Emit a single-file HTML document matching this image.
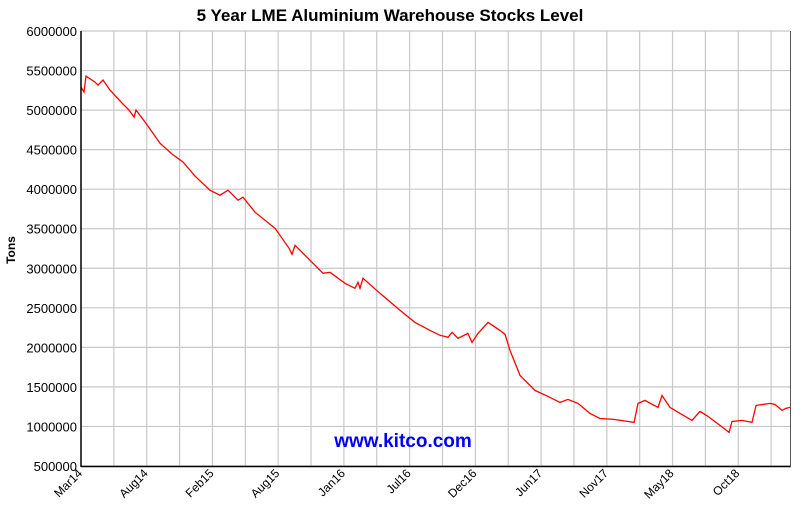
<!DOCTYPE html>
<html><head><meta charset="utf-8"><style>
html,body{margin:0;padding:0;background:#fff;}
svg{display:block;font-family:"Liberation Sans",Arial,sans-serif;}
</style></head><body>
<svg id="chart" width="806" height="512" viewBox="0 0 806 512" xmlns="http://www.w3.org/2000/svg">
<text x="390" y="21" text-anchor="middle" font-size="17" font-weight="bold">5 Year LME Aluminium Warehouse Stocks Level</text>
<text transform="translate(15,250) rotate(-90)" text-anchor="middle" font-size="12" font-weight="bold">Tons</text>
<g id="grid"></g>
<g id="ticks"></g>
<text x="403" y="447" text-anchor="middle" font-size="19" font-weight="bold" fill="#0000ff">www.kitco.com</text>
<path id="line" fill="none" stroke="#ff0000" stroke-width="1.3"/>
<line x1="81" y1="31" x2="81" y2="467" stroke="#000" stroke-width="1.5"/>
<line x1="81" y1="466.5" x2="791" y2="466.5" stroke="#000" stroke-width="1.5"/>
<line x1="790.5" y1="31" x2="790.5" y2="467" stroke="#555" stroke-width="1"/>
</svg>
<script>
const yTicks=[500000,1000000,1500000,2000000,2500000,3000000,3500000,4000000,4500000,5000000,5500000,6000000];
const xLabels=["Mar14","Aug14","Feb15","Aug15","Jan16","Jul16","Dec16","Jun17","Nov17","May18","Oct18"];
const xLabelMonths=[0,5.5,11,16.5,22,27.5,33,38.5,44,49.5,55];
const months=[0,0.25,0.42,1.17,1.42,1.84,2.43,3.43,4.02,4.44,4.6,5.36,6.61,7.62,8.54,9.54,10.79,11.63,12.3,13.14,13.56,14.56,16.23,17.41,17.66,17.91,19.16,20.25,20.84,22.09,22.93,23.18,23.35,23.6,25.02,26.69,27.95,29.21,30.04,30.71,31.05,31.55,32.38,32.72,33.22,34.06,35.06,35.48,35.9,36.74,37.99,39.08,40.08,40.75,41.59,42.59,43.43,44.6,46.28,46.61,47.2,48.28,48.62,49.29,50.13,51.13,51.8,52.47,53.47,54.23,54.48,55.31,56.15,56.49,57.66,58.08,58.66,58.99,59.33];
const stocks=[5291000,5228000,5430000,5354000,5316000,5380000,5253000,5089000,5000000,4911000,5000000,4848000,4582000,4443000,4342000,4165000,3987000,3924000,3987000,3861000,3899000,3709000,3506000,3253000,3177000,3291000,3101000,2937000,2949000,2810000,2747000,2823000,2747000,2873000,2684000,2468000,2316000,2215000,2152000,2127000,2190000,2114000,2177000,2063000,2177000,2316000,2215000,2165000,1962000,1646000,1456000,1380000,1304000,1342000,1291000,1165000,1101000,1089000,1051000,1291000,1329000,1241000,1392000,1241000,1165000,1076000,1190000,1127000,1013000,925000,1063000,1076000,1051000,1266000,1291000,1278000,1203000,1228000,1241000];
const NS="http://www.w3.org/2000/svg";
const X0=81,X1=790,Y0=466,Y1=31,MMAX=59.33;
function xs(m){return X0+(m/MMAX)*(X1-X0);}
function ys(v){return Y0-(v-500000)/(6000000-500000)*(Y0-Y1);}
const grid=document.getElementById('grid'),ticks=document.getElementById('ticks');
yTicks.forEach(v=>{
  const y=ys(v);
  const l=document.createElementNS(NS,'line');
  l.setAttribute('x1',X0);l.setAttribute('x2',X1);l.setAttribute('y1',y);l.setAttribute('y2',y);
  l.setAttribute('stroke','#c8c8c8');l.setAttribute('stroke-width','1.2');
  
  
  grid.appendChild(l);
  const t=document.createElementNS(NS,'text');
  t.setAttribute('x',77);t.setAttribute('y',y+5);t.setAttribute('text-anchor','end');t.setAttribute('font-size','13');
  t.textContent=v;
  
  
  ticks.appendChild(t);
});
for(let i=1;i<22;i++){
  const m=i*2.75;if(m>=MMAX)break;
  const x=xs(m);
  const l=document.createElementNS(NS,'line');
  l.setAttribute('x1',x);l.setAttribute('x2',x);l.setAttribute('y1',Y1);l.setAttribute('y2',Y0);
  l.setAttribute('stroke','#c8c8c8');l.setAttribute('stroke-width','1.2');
  
  
  grid.appendChild(l);
}
xLabels.forEach((s,i)=>{
  const x=xs(xLabelMonths[i]);
  const t=document.createElementNS(NS,'text');
  t.setAttribute('transform','translate('+(x+2)+',474) rotate(-45)');
  t.setAttribute('text-anchor','end');t.setAttribute('font-size','12');
  t.textContent=s;
  
  
  ticks.appendChild(t);
});
let d='';
months.forEach((m,i)=>{d+=(i?'L':'M')+xs(m).toFixed(1)+' '+ys(stocks[i]).toFixed(1);});
document.getElementById('line').setAttribute('d',d);
</script>
</body></html>
